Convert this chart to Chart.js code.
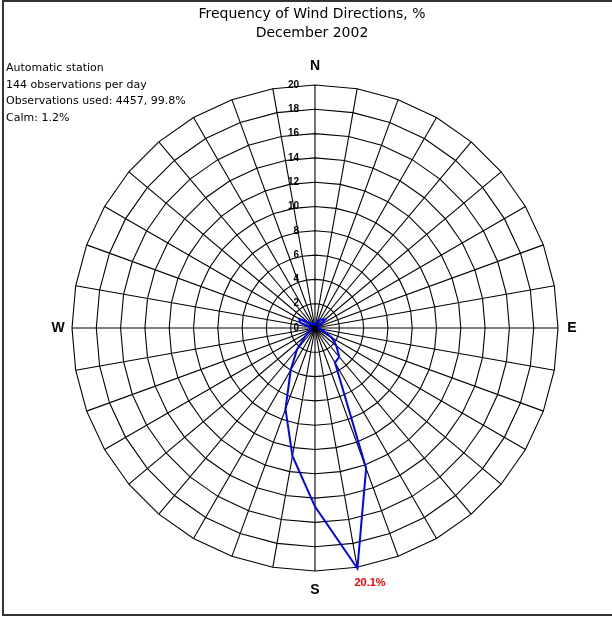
<!DOCTYPE html>
<html lang="en">
<head>
    <meta charset="UTF-8">
    <title>Frequency of Wind Directions</title>
    <style>
body, html {
    margin: 0;
    padding: 0;
    background-color: #ffffff;
}

#wrap {
    position: relative;
    width: 612px;
    height: 618px;
    overflow: hidden;
}

#frame {
    position: absolute;
    left: 2px;
    top: 0;
    width: 640px;
    height: 612px;
    border: 2px solid #333;
    border-right: none;
}

#title {
    position: absolute;
    left: 0;
    top: 4px;
    width: 624px;
    text-align: center;
    font-family: 'DejaVu Sans', sans-serif;
    font-size: 14px;
    line-height: 19px;
    color: #000;
}

#info {
    position: absolute;
    left: 6px;
    top: 60px;
    font-family: 'DejaVu Sans', sans-serif;
    font-size: 11px;
    line-height: 16.5px;
    color: #000;
}

#roseChart {
    position: absolute;
    left: 0;
    top: 0;
}
    </style>
    <script src="https://cdn.jsdelivr.net/npm/chart.js"></script>
</head>
<body>
<div id="wrap">
    <div id="frame"></div>
    <canvas id="roseChart" width="612" height="618"></canvas>
    <div id="title">Frequency of Wind Directions, %<br>December 2002</div>
    <div id="info">Automatic station<br>144 observations per day<br>Observations used: 4457, 99.8%<br>Calm: 1.2%</div>
</div>

<script>
    // wind direction in degrees, clockwise from north
    const directions = [0, 10, 20, 30, 40, 50, 60, 70, 80, 90, 100, 110,
                        120, 130, 140, 150, 160, 170, 180, 190, 200, 210, 220, 230,
                        240, 250, 260, 270, 280, 290, 300, 310, 320, 330, 340, 350];
    // frequency, %
    const frequency = [0.3, 0.3, 0.5, 0.8, 0.9, 1.1, 0.5, 0.3, 0.3, 0.3, 0.4, 0.8,
                       1.6, 2.3, 3.1, 3.3, 12.3, 20.1, 14.7, 10.7, 7.1, 4.0, 2.3, 1.0,
                       0.6, 0.4, 0.4, 0.4, 0.5, 1.3, 1.5, 0.7, 0.4, 0.3, 0.3, 0.3];
    const tickValues = [0, 2, 4, 6, 8, 10, 12, 14, 16, 18, 20];
    const compassNames = ['N', 'E', 'S', 'W'];
    const compassDirs = [0, 90, 180, 270];

    const roseLabels = {
        id: 'roseLabels',
        afterDraw(chart) {
            const r = chart.scales.r;
            const ctx = chart.ctx;
            ctx.save();

            // scale numbers left of the north spoke
            ctx.fillStyle = '#000';
            ctx.font = 'bold 10px "Liberation Sans", Arial, sans-serif';
            ctx.textAlign = 'right';
            ctx.textBaseline = 'middle';
            tickValues.forEach(v => {
                const d = r.getDistanceFromCenterForValue(v);
                ctx.fillText(String(v), r.xCenter - 16, r.yCenter - d);
            });

            // N E S W
            ctx.font = 'bold 14px "Liberation Sans", Arial, sans-serif';
            ctx.textAlign = 'center';
            compassNames.forEach((name, i) => {
                const idx = directions.indexOf(compassDirs[i]);
                const extra = (i % 2 === 0) ? 19 : 14;
                const p = r.getPointPosition(idx, r.drawingArea + extra);
                ctx.fillText(name, p.x, p.y);
            });

            // peak value
            let maxIdx = 0;
            frequency.forEach((v, i) => { if (v > frequency[maxIdx]) maxIdx = i; });
            const pk = r.getPointPositionForValue(maxIdx, frequency[maxIdx]);
            ctx.fillStyle = '#ff0000';
            ctx.font = 'bold 11px "Liberation Sans", Arial, sans-serif';
            ctx.textAlign = 'left';
            ctx.fillText(frequency[maxIdx].toFixed(1) + '%', pk.x - 3, pk.y + 14);

            ctx.restore();
        }
    };

    const ctx = document.getElementById('roseChart').getContext('2d');
    new Chart(ctx, {
        type: 'radar',
        data: {
            labels: directions.map(String),
            datasets: [{
                data: frequency,
                borderColor: '#0000ff',
                borderWidth: 2,
                pointRadius: 0,
                fill: false,
                tension: 0
            }]
        },
        options: {
            responsive: false,
            animation: false,
            layout: {
                padding: { left: 72, top: 85, right: 54, bottom: 47 }
            },
            plugins: {
                legend: { display: false },
                tooltip: { enabled: false }
            },
            scales: {
                r: {
                    min: 0,
                    max: 20,
                    ticks: { stepSize: 2, display: false },
                    pointLabels: { display: false },
                    grid: { color: '#000', lineWidth: 1.1 },
                    angleLines: { color: '#000', lineWidth: 1.1 }
                }
            }
        },
        plugins: [roseLabels]
    });
</script>
</body>
</html>
